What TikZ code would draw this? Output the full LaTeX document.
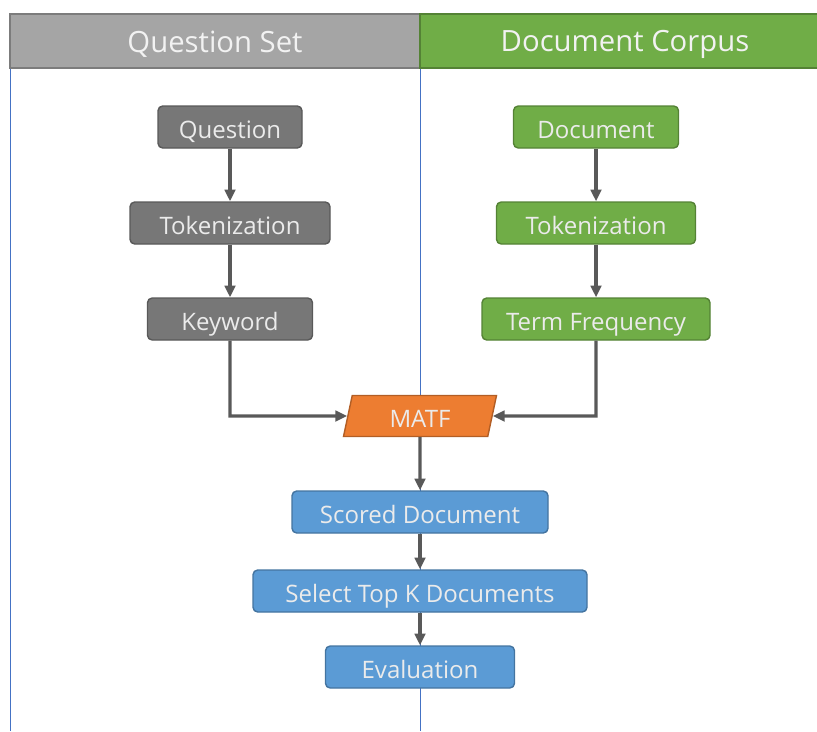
\documentclass[tikz,border=0pt]{standalone}
\usepackage{fontspec}
\setmainfont{Open Sans}
\usetikzlibrary{arrows.meta,positioning,shapes.geometric}
\definecolor{laneblue}{HTML}{4472C4}
\definecolor{headgrey}{HTML}{A5A5A5}
\definecolor{headgreen}{HTML}{70AD47}
\definecolor{boxgrey}{HTML}{777777}
\definecolor{boxgreen}{HTML}{70AD47}
\definecolor{boxorange}{HTML}{ED7D31}
\definecolor{boxblue}{HTML}{5B9BD5}
\definecolor{arrowgrey}{HTML}{595959}
\tikzset{
  box/.style={rounded corners=4pt, line width=1.2pt, minimum height=42*0.03cm,
    inner xsep=6pt, inner ysep=0pt, text=white!92!black, font=\fontsize{20.5}{24}\selectfont,
    text height=21pt, text depth=2pt},
  qbox/.style={box, fill=boxgrey, draw=boxgrey!75!black},
  dbox/.style={box, fill=boxgreen, draw=boxgreen!75!black},
  rbox/.style={box, fill=boxblue, draw=boxblue!75!black},
  flow/.style={-{Triangle[length=10pt,width=9pt]}, line width=2.6pt, draw=arrowgrey},
}
\begin{document}
\begin{tikzpicture}[x=0.03cm, y=-0.03cm]
\useasboundingbox (0,0) rectangle (817,731);
% lanes
\draw[laneblue, line width=0.6pt] (10,68)--(10,731) (420,68)--(420,731);
\draw[fill=headgrey, draw=headgrey!75!black, line width=1.2pt] (10,14) rectangle (420,68);
\draw[fill=headgreen, draw=headgreen!75!black, line width=1.2pt] (420,14) rectangle (830,68);
\node[text=white!95!black, font=\fontsize{25}{30}\selectfont] (qset) at (215,44) {Question Set};
\node[text=white!95!black, font=\fontsize{25}{30}\selectfont] (dcorp) at (625,44) {Document Corpus};
% question side
\node[qbox, minimum width=144*0.03cm] (question) at (230,127) {Question};
\node[qbox, minimum width=200*0.03cm] (qtoken)   at (230,223) {Tokenization};
\node[qbox, minimum width=165*0.03cm] (keyword)  at (230,319) {Keyword};
% document side
\node[dbox, minimum width=165*0.03cm] (document) at (596,127) {Document};
\node[dbox, minimum width=199*0.03cm] (dtoken)   at (596,223) {Tokenization};
\node[dbox, minimum width=228*0.03cm] (termfreq) at (596,319) {Term Frequency};
% scoring
\node[trapezium, trapezium left angle=72, trapezium right angle=108,
  trapezium stretches body, minimum width=153*0.03cm, minimum height=41*0.03cm,
  inner xsep=2pt, inner ysep=0pt, fill=boxorange, draw=boxorange!75!black, line width=1.2pt,
  text=white!92!black, font=\fontsize{20.5}{24}\selectfont,
  text height=21pt, text depth=2pt] (matf) at (420,416) {MATF};
\node[rbox, minimum width=256*0.03cm] (scored) at (420,512) {Scored Document};
\node[rbox, minimum width=334*0.03cm] (topk)   at (420,591) {Select Top K Documents};
\node[rbox, minimum width=189*0.03cm] (evalu)  at (420,667) {Evaluation};
\coordinate (kcorner) at (keyword.south |- matf);
\coordinate (tcorner) at (termfreq.south |- matf);
\draw[flow] (question)--(qtoken);
\draw[flow] (qtoken)--(keyword);
\draw[flow] (document)--(dtoken);
\draw[flow] (dtoken)--(termfreq);
\draw[flow] (keyword.south)--(kcorner)--(matf);
\draw[flow] (termfreq.south)--(tcorner)--(matf);
\draw[flow] (matf)--(scored);
\draw[flow] (scored)--(topk);
\draw[flow] (topk)--(evalu);
\end{tikzpicture}
\end{document}
